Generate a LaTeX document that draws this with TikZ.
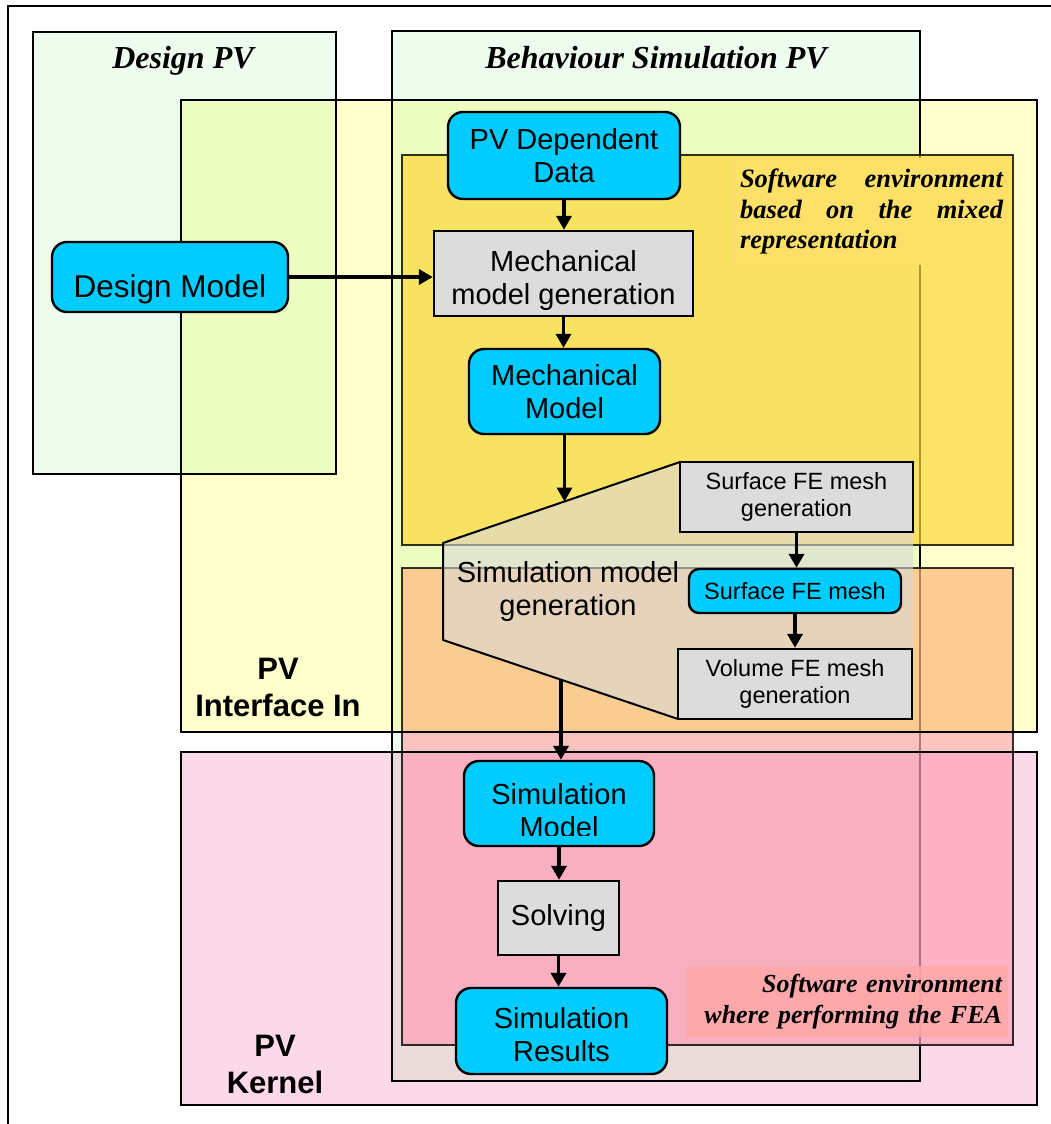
\documentclass[tikz,border=0pt]{standalone}
\usepackage{fontspec}
\setmainfont{Liberation Serif}
\setsansfont{Liberation Sans}
\usetikzlibrary{positioning}
\usetikzlibrary{arrows.meta}
\usetikzlibrary{calc}

\definecolor{ifaceyellow}{RGB}{255,255,204}
\definecolor{kernelpink}{RGB}{252,217,232}
\definecolor{pvgreen}{RGB}{112,233,119}
\definecolor{mixedyellow}{RGB}{252,215,59}
\definecolor{feaorange}{RGB}{255,185,125}
\definecolor{feagap}{RGB}{252,172,167}
\definecolor{feapink}{RGB}{255,159,182}
\definecolor{notebgA}{RGB}{252,224,104}
\definecolor{notebgB}{RGB}{255,168,168}
\definecolor{pvcyan}{RGB}{0,204,255}
\definecolor{opgrey}{RGB}{220,220,220}
\definecolor{gengrey}{RGB}{217,217,217}

\tolerance=10000
\hbadness=10000

\begin{document}
\begin{tikzpicture}[x=1pt, y=-1pt,
	nodebox/.style={draw, line width=2.4pt, inner sep=0pt, align=center, font=\sffamily\fontsize{29}{33}\selectfont},
	datanode/.style={nodebox, fill=pvcyan, rounded corners=15pt},
	stepnode/.style={nodebox, fill=opgrey},
	subfont/.style={font=\sffamily\fontsize{23.5}{27}\selectfont},
	nodetext/.style={inner sep=0pt, align=center, font=\sffamily\fontsize{29}{33}\selectfont},
	pvtitle/.style={anchor=base, font=\rmfamily\bfseries\itshape\fontsize{32}{36}\selectfont},
	pvlabel/.style={align=center, font=\sffamily\bfseries\fontsize{31}{37}\selectfont},
	envnote/.style={inner ysep=0pt, inner xsep=7pt, font=\rmfamily\bfseries\itshape\fontsize{26.5}{30.5}\selectfont},
	arealine/.style={line width=2pt},
	flowarrow/.style={line width=3.5pt, -{Triangle[length=14pt, width=15pt]}}
	]
	\useasboundingbox (0,0) rectangle (1051,1124);

	% page frame
	\draw[line width=2pt] (8,1124) -- (8,6) -- (1051,6);

	% PV areas
	\fill[ifaceyellow] (181,100) rectangle (1037,732);
	\fill[kernelpink] (181,752) rectangle (1037,1105);
	\fill[pvgreen, fill opacity=0.12] (33,32) rectangle (336,474);
	\fill[pvgreen, fill opacity=0.12] (392,31) rectangle (920,1081);
	\draw[arealine] (392,31) rectangle (920,1081);

	% software environments (slightly see-through)
	\fill[mixedyellow, fill opacity=0.7] (402,155) rectangle (1013,545);
	\fill[feaorange, fill opacity=0.7] (402,568) rectangle (1013,732);
	\fill[feagap, fill opacity=0.7] (402,732) rectangle (1013,752);
	\fill[feapink, fill opacity=0.7] (402,752) rectangle (1013,1045);

	\draw[arealine] (33,32) rectangle (336,474);
	\draw[arealine] (181,100) rectangle (1037,732);
	\draw[arealine] (181,752) rectangle (1037,1105);
	\draw[arealine, draw opacity=0.8] (402,155) rectangle (1013,545);
	\draw[arealine, draw opacity=0.8] (402,568) rectangle (1013,1045);

	% titles of the areas
	\node[pvtitle] (dsgnpv) at (183,68) {Design PV};
	\node[pvtitle] (behavpv) at (656,68) {Behaviour Simulation PV};
	\node[pvlabel] (ifacein) at (278,687.5) {PV\\Interface In};
	\node[pvlabel] (kernel) at (275,1064) {PV\\Kernel};

	\node[envnote, fill=notebgA, text width=263pt, align=justify, minimum height=107pt] (mixednote) at (871.5,211.5) {Software environment\linebreak based on the mixed\linebreak representation};
	\node[envnote, fill=notebgB, fill opacity=0.85, text opacity=1, text width=310pt, align=right, minimum height=71pt, inner xsep=6pt, font=\rmfamily\bfseries\itshape\fontsize{26}{31}\selectfont] (feanote) at (847,1001.5) {Software environment\\where performing the FEA};

	% simulation model generation
	\fill[gengrey, fill opacity=0.6] (443,543) -- (680,462) -- (913,462) -- (913,719) -- (678,719) -- (443,640) -- cycle;
	\draw[line width=2pt, line join=round] (680,462) -- (443,543) -- (443,640) -- (678,719);
	\node[nodetext] (simgen) at (568,591) {Simulation model\\generation};
	\coordinate (simgenin) at (564.5,501.5);
	\coordinate (simgenout) at (561,680);

	% data and steps
	\node[datanode, minimum width=236pt, minimum height=70pt, text height=55pt, text depth=15pt, font=\sffamily\fontsize{31.5}{36}\selectfont] (dsgnmodel) at (170,277) {Design Model};
	\node[datanode, minimum width=232pt, minimum height=87pt] (pvdata) at (564,155.5) {PV Dependent\\Data};
	\node[stepnode, minimum width=259pt, minimum height=85pt] (mechgen) at (563.5,273.5) {};
	\node[datanode, minimum width=191pt, minimum height=85pt] (mechmodel) at (564.5,391.5) {Mechanical\\Model};
	\node[stepnode, subfont, minimum width=233pt, minimum height=70pt] (surfgen) at (796.5,497) {Surface FE mesh\\generation};
	\node[datanode, subfont, rounded corners=10pt, minimum width=212pt, minimum height=44pt] (surfmesh) at (795,591) {Surface FE mesh};
	\node[stepnode, subfont, minimum width=234pt, minimum height=70pt] (volgen) at (795,684) {Volume FE mesh\\generation};
	\node[datanode, minimum width=190pt, minimum height=85pt] (simmodel) at (559,803.5) {};
	\node[stepnode, minimum width=121pt, minimum height=74pt] (solving) at (558.5,918) {Solving};
	\node[datanode, minimum width=211pt, minimum height=86pt] (simresults) at (561.5,1031) {};

	% texts running past the bottom of their box get cut
	\begin{scope}
		\clip (mechgen.north west) rectangle ($(mechgen.south east)+(0,-8)$);
		\node[nodetext] (mechgentext) at ($(mechgen)+(0,7)$) {Mechanical\\model generation};
	\end{scope}
	\begin{scope}
		\clip (simmodel.north west) rectangle ($(simmodel.south east)+(0,-12)$);
		\node[nodetext] (simmodeltext) at ($(simmodel)+(0,7.5)$) {Simulation\\Model};
	\end{scope}
	\begin{scope}
		\clip (simresults.north west) rectangle ($(simresults.south east)+(0,-13)$);
		\node[nodetext] (simresultstext) at ($(simresults)+(0,4)$) {Simulation\\Results};
	\end{scope}

	% flow
	\draw[flowarrow] (pvdata.south) -- (pvdata.south |- mechgen.north);
	\draw[flowarrow] (dsgnmodel.east) -- (dsgnmodel.east -| mechgen.west);
	\draw[flowarrow] (mechgen.south) -- (mechgen.south |- mechmodel.north);
	\draw[flowarrow] (mechmodel.south) -- (simgenin);
	\draw[flowarrow] (surfgen.south) -- (surfgen.south |- surfmesh.north);
	\draw[flowarrow] (surfmesh.south) -- (surfmesh.south |- volgen.north);
	\draw[flowarrow] (simgenout) -- (simgenout |- simmodel.north);
	\draw[flowarrow] (simmodel.south) -- (simmodel.south |- solving.north);
	\draw[flowarrow] (solving.south) -- (solving.south |- simresults.north);
\end{tikzpicture}
\end{document}
